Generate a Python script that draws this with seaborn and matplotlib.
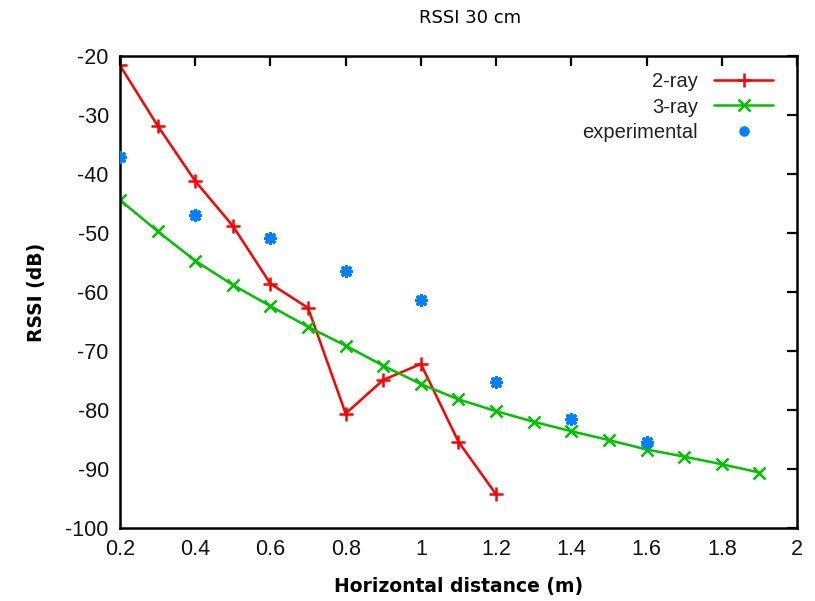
import matplotlib
matplotlib.use("Agg")
import matplotlib.pyplot as plt
import seaborn as sns
import pandas as pd
from matplotlib.lines import Line2D

# ---- data ----
x_2ray = [0.2, 0.3, 0.4, 0.5, 0.6, 0.7, 0.8, 0.9, 1.0, 1.1, 1.2]
rssi_2ray = [-21.6, -31.8, -41.2, -48.8, -58.6, -62.7, -80.6, -74.9, -72.2, -85.4, -94.3]

x_3ray = [0.2, 0.3, 0.4, 0.5, 0.6, 0.7, 0.8, 0.9, 1.0, 1.1, 1.2, 1.3, 1.4, 1.5, 1.6, 1.7, 1.8, 1.9]
rssi_3ray = [-44.4, -49.7, -54.7, -58.8, -62.4, -65.9, -69.1, -72.5, -75.6, -78.2, -80.2,
             -82.0, -83.6, -85.1, -86.7, -87.9, -89.2, -90.6]

x_exp = [0.2, 0.4, 0.6, 0.8, 1.0, 1.2, 1.4, 1.6]
rssi_exp = [-37.2, -46.9, -50.8, -56.4, -61.4, -75.3, -81.6, -85.4]

x_ticks = [0.2, 0.4, 0.6, 0.8, 1.0, 1.2, 1.4, 1.6, 1.8, 2.0]
x_ticklabels = ["0.2", "0.4", "0.6", "0.8", "1", "1.2", "1.4", "1.6", "1.8", "2"]
y_ticks = [-100, -90, -80, -70, -60, -50, -40, -30, -20]

title = "RSSI 30 cm"
xlabel = "Horizontal distance (m)"
ylabel = "RSSI (dB)"
labels = ["2-ray", "3-ray", "experimental"]

RED = "#ff0000"
GREEN = "#00c000"
BLUE = "#0080ff"

df2 = pd.DataFrame({"x": x_2ray, "y": rssi_2ray})
df3 = pd.DataFrame({"x": x_3ray, "y": rssi_3ray})
dfe = pd.DataFrame({"x": x_exp, "y": rssi_exp})

sns.set_theme(style="white")
plt.rcParams["font.family"] = ["Liberation Sans", "DejaVu Sans"]
plt.rcParams["axes.unicode_minus"] = False
plt.rcParams["text.color"] = "black"

fig = plt.figure(figsize=(8.15, 6.01), dpi=100)
ax = fig.add_axes([0.1472, 0.1215, 0.8307, 0.7853])

sns.lineplot(data=df2, x="x", y="y", ax=ax, color=RED, linewidth=1.8,
             marker="+", markersize=10, markeredgewidth=1.8, markeredgecolor=RED,
             sort=False, errorbar=None)
sns.lineplot(data=df3, x="x", y="y", ax=ax, color=GREEN, linewidth=1.8,
             marker="x", markersize=8, markeredgewidth=1.8, markeredgecolor=GREEN,
             sort=False, errorbar=None)
sns.scatterplot(data=dfe, x="x", y="y", ax=ax, color=BLUE, marker=(8, 2, 0),
                s=50, linewidth=2.4, edgecolor=BLUE, zorder=3)

ax.set_xlim(0.2, 2.0)
ax.set_ylim(-100, -20)
ax.set_xticks(x_ticks)
ax.set_xticklabels(x_ticklabels)
ax.set_yticks(y_ticks)
ax.tick_params(axis="both", direction="in", length=7, width=1.6, top=True, right=True,
               labelsize=15.5, colors="black", pad=8)
for lab in ax.get_xticklabels() + ax.get_yticklabels():
    lab.set_color("#111111")
for sp in ax.spines.values():
    sp.set_visible(True)
    sp.set_linewidth(1.8)
    sp.set_color("black")

ax.set_xlabel(xlabel, fontsize=13.5, fontweight="bold", family="DejaVu Sans",
              labelpad=12, color="black")
ax.set_ylabel(ylabel, fontsize=13.5, fontweight="bold", family="DejaVu Sans",
              labelpad=14, color="black")
fig.text(0.577, 0.970, title, fontsize=13, family="DejaVu Sans", ha="center",
         va="center", color="black")

handles = [
    Line2D([], [], color=RED, linewidth=1.8, marker="+", markersize=10, markeredgewidth=1.8),
    Line2D([], [], color=GREEN, linewidth=1.8, marker="x", markersize=8, markeredgewidth=1.8),
    Line2D([], [], color=BLUE, linestyle="none", marker=(8, 2, 0), markersize=7, markeredgewidth=2.4),
]
leg = ax.legend(handles, labels, loc="upper right", markerfirst=False, frameon=False,
                fontsize=14.5, handlelength=2.9, handletextpad=0.8, labelspacing=0.3,
                borderaxespad=0.3, bbox_to_anchor=(0.985, 0.995))
for col in leg._legend_handle_box.get_children():
    col.align = "right"
for t in leg.get_texts():
    t.set_color("#222222")

fig.savefig("out.png", dpi=100)
